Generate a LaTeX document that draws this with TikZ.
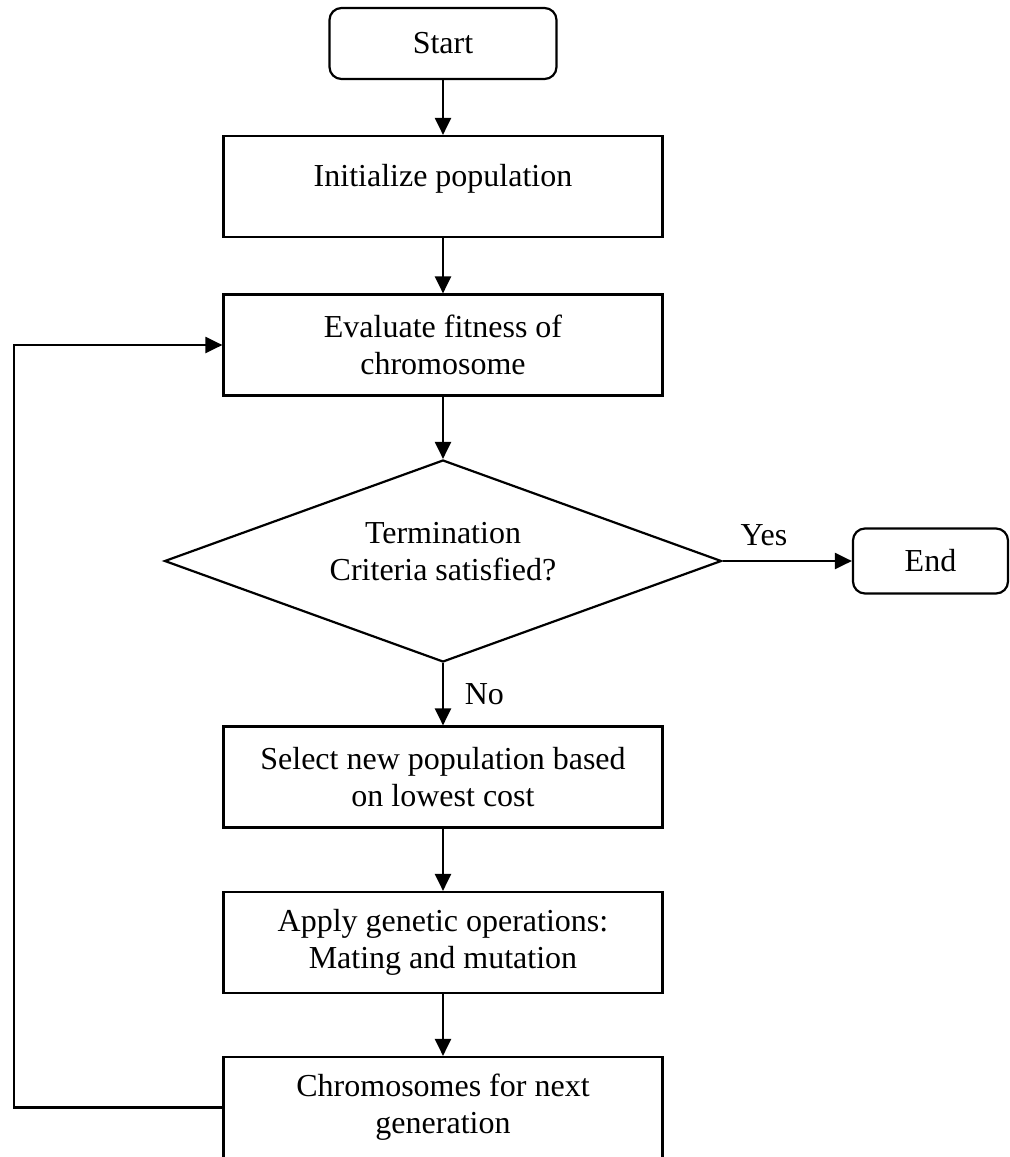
\documentclass[tikz,border=0pt]{standalone}
\usepackage{fontspec}
\setmainfont{Liberation Serif}
\usetikzlibrary{shapes.geometric,arrows.meta}

\begin{document}
\begin{tikzpicture}[x=0.5pt,y=-0.5pt,
    every node/.style={font=\fontsize{16pt}{18.5pt}\selectfont},
    process/.style={rectangle,draw,line width=1.1pt,minimum width=219.5pt,minimum height=50.5pt,align=center,inner sep=0pt},
    terminal/.style={rectangle,rounded corners=6pt,draw,line width=1.1pt,inner sep=0pt},
    decision/.style={diamond,draw,line width=1.1pt,minimum width=278.5pt,minimum height=101pt,inner sep=0pt},
    flow/.style={line width=1.1pt,-{Triangle[length=8.5pt,width=8pt]}}]
  \useasboundingbox (0,0) rectangle (1010,1157);
  \node[terminal,minimum width=113.5pt,minimum height=35.5pt] (start) at (443,43.5) {Start};
  \node[process,text height=0.7em,text depth=0.7em] (init) at (443,186.5) {Initialize population};
  \node[process] (eval) at (443,345) {Evaluate fitness of\\chromosome};
  \node[decision,label={[align=center,yshift=4.5pt]center:{Termination\\Criteria satisfied?}}] (test) at (443,561) {};
  \node[terminal,minimum width=77.5pt,minimum height=32.5pt] (finish) at (930.5,561) {End};
  \node[process] (select) at (443,777) {Select new population based\\on lowest cost};
  \node[process] (apply) at (443,942.5) {Apply genetic operations:\\Mating and mutation};
  \node[process] (chrom) at (443,1107.5) {Chromosomes for next\\generation};
  \coordinate (back) at (14,1107.5);
  \draw[flow] (start) -- (init);
  \draw[flow] (init) -- (eval);
  \draw[flow] (eval) -- (test);
  \draw[flow] (test.east) -- (finish) node[pos=0.32,above=3.5pt] {Yes};
  \draw[flow] (test.south) -- (select) node[midway,right=7pt] {No};
  \draw[flow] (select) -- (apply);
  \draw[flow] (apply) -- (chrom);
  \draw[flow] (chrom.west) -- (back) |- (eval.west);
\end{tikzpicture}
\end{document}
